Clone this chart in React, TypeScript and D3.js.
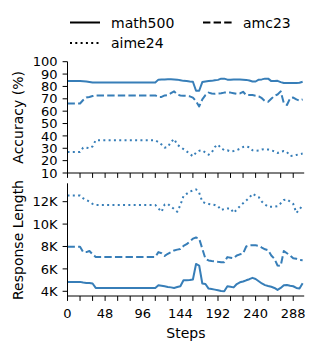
import React from "react";
import * as d3 from "d3";

const steps = [0,4,8,12,16,20,24,28,32,36,40,44,48,52,56,60,64,68,72,76,80,84,88,92,96,100,104,108,112,116,120,124,128,132,136,140,144,148,152,156,160,164,168,172,176,180,184,188,192,196,200,204,208,212,216,220,224,228,232,236,240,244,248,252,256,260,264,268,272,276,280,284,288,292,296,300];

const accMath500 = [84.3,84.3,84.3,84.3,84.3,84.2,84,83.6,83.2,
  83.2,83.2,83.2,83.2,83.2,83.2,83.2,83.2,83.2,83.2,83.2,83.2,83.2,83.2,83.2,83.2,83.2,83.2,83.2,83.2,
  85.5,85.7,85.7,85.8,85.8,85.7,85.5,85,84.5,84.3,84,83.8,
  76.5,76.5,83.5,84,84.3,84.5,85,85.3,86.3,86.3,
  85.5,85.5,85.7,85.7,85.6,85.5,85.3,84.8,84,84,
  85.5,85.7,86.3,86.3,84.3,84.3,84.5,83.5,
  82.8,82.8,82.8,82.8,82.8,83,83.8];

const accAmc23 = [66.2,66.2,66.2,66.2,66.2,69,71.1,71.5,72.2,
  72.7,72.7,72.7,72.7,72.7,72.7,72.7,72.7,72.7,72.7,72.7,72.7,72.7,72.7,72.7,72.7,72.7,72.7,72.7,72.7,
  71.5,71.5,72.7,73,74.5,76,73.5,72.7,72.5,72.4,72,71,
  68,63.8,69.5,73,75,74.3,74,74.3,74.5,75,
  75,75,74.5,74,74.3,75.7,73,73,73,72.5,
  72,70.5,68,67.6,70,72.5,73.5,76,
  66.5,65,70.5,71,69.5,68.5,69.5];

const accAime24 = [27,27,27,27,27,30.5,30.5,30,31.5,
  36.5,36.5,36.5,36.5,36.5,36.5,36.5,36.5,36.5,36.5,36.5,36.5,36.5,36.5,36.5,36.5,36.5,36.5,36.5,36.5,
  35,33,30.5,31,35,37.5,33,31,29.3,27.5,25.5,23.5,
  26.5,28,28.3,26.5,24.8,26.6,31,33,30,28.5,
  28.4,27.4,27.8,28.5,29.6,31,31.5,30.8,28.4,28,
  28.2,29,29.2,29,28.3,27.5,26.2,27.2,
  27.8,26.9,23.8,24,24.6,25.2,25.7];

const lenMath500 = [4.84,4.84,4.84,4.84,4.84,4.78,4.75,4.75,4.7,
  4.3,4.3,4.3,4.3,4.3,4.3,4.3,4.3,4.3,4.3,4.3,4.3,4.3,4.3,4.3,4.3,4.3,4.3,4.3,4.3,
  4.54,4.5,4.45,4.39,4.35,4.3,4.38,4.45,4.99,4.99,5.0,5.05,
  6.44,6.3,4.7,4.65,4.24,4.2,4.15,4.09,4.03,4.0,
  4.45,4.4,4.35,4.65,4.8,4.87,4.98,5.08,5.2,5.1,
  4.9,4.7,4.55,4.47,4.4,4.3,4.12,4.3,
  4.55,4.57,4.5,4.45,4.3,4.25,4.72];

const lenAmc23 = [7.97,7.97,7.97,7.97,7.97,7.5,7.5,7.6,7.3,
  7.07,7.07,7.07,7.07,7.07,7.07,7.07,7.07,7.07,7.07,7.07,7.07,7.07,7.07,7.07,7.07,7.07,7.07,7.07,7.07,
  7.5,7.4,7.16,7.35,7.5,7.65,7.72,7.78,8.05,8.2,8.45,8.7,
  8.8,8.7,7.8,6.9,6.75,6.7,6.68,6.63,6.6,6.6,
  7.05,7.0,6.95,7.2,7.3,7.37,8.0,8.1,8.12,8.1,
  8.06,7.9,7.75,7.67,7.2,6.9,6.3,6.28,
  7.6,7.4,7.2,6.95,6.9,6.8,6.78];

const lenAime24 = [12.54,12.54,12.54,12.54,12.54,12.3,12.15,12.0,11.8,
  11.7,11.7,11.7,11.7,11.7,11.7,11.7,11.7,11.7,11.7,11.7,11.7,11.7,11.7,11.7,11.7,11.7,11.7,11.7,11.7,
  11.4,11.1,11.75,11.8,11.55,11.35,11.1,11.7,12.5,12.7,12.9,13.0,
  13.1,12.8,12.0,11.85,11.8,11.75,11.7,11.6,11.25,11.35,
  11.4,11.4,11.0,11.3,11.6,11.85,12.1,12.35,12.7,12.55,
  12.4,12.0,11.75,11.55,11.55,11.55,11.6,11.85,
  12.15,12.2,12.0,11.8,11.0,11.3,11.7];

const xTicks = [0,16,32,48,64,80,96,112,128,144,160,176,192,208,224,240,256,272,288];
const xTickLabels = [0,48,96,144,192,240,288];
const accTicks = [10,20,30,40,50,60,70,80,90,100];
const lenTicks = [4,6,8,10,12];

const seriesNames = ["math500", "amc23", "aime24"];
const dashes = ["none", "7.4,3.2", "2,3.3"];

const COLOR = "#377eb8";
const FONT = "DejaVu Sans";

export default function App() {
  const left = 67.5, right = 304.2;
  const x = d3.scaleLinear().domain([0, 302]).range([left, right]);
  const yAcc = d3.scaleLinear().domain([10, 100]).range([173, 61.7]);
  const yLen = d3.scaleLinear().domain([3.58, 13.64]).range([296, 183.3]);

  const accSeries = [accMath500, accAmc23, accAime24];
  const lenSeries = [lenMath500, lenAmc23, lenAime24];

  const lineAcc = d3.line<number>().x((_, i) => x(steps[i])).y((d) => yAcc(d));
  const lineLen = d3.line<number>().x((_, i) => x(steps[i])).y((d) => yLen(d));

  const xAxis = (y0: number, labels: boolean) => (
    <g>
      <line x1={left} x2={right} y1={y0} y2={y0} stroke="#000" strokeWidth={1} />
      {xTicks.map((t) => (
        <line key={t} x1={x(t)} x2={x(t)} y1={y0} y2={y0 + 4.9} stroke="#000" strokeWidth={1} />
      ))}
      {labels &&
        xTickLabels.map((t) => (
          <text key={t} x={x(t)} y={y0 + 22} textAnchor="middle" fontSize={13} fontFamily={FONT} fill="#000">
            {t}
          </text>
        ))}
    </g>
  );

  const yAxis = (scale: d3.ScaleLinear<number, number>, ticks: number[], fmt: (v: number) => string) => {
    const [r0, r1] = scale.range();
    return (
      <g>
        <line x1={left} x2={left} y1={r0} y2={r1} stroke="#000" strokeWidth={1} />
        {ticks.map((t) => (
          <g key={t}>
            <line x1={left - 4.9} x2={left} y1={scale(t)} y2={scale(t)} stroke="#000" strokeWidth={1} />
            <text x={left - 10} y={scale(t)} dy="0.36em" textAnchor="end" fontSize={13} fontFamily={FONT} fill="#000">
              {fmt(t)}
            </text>
          </g>
        ))}
      </g>
    );
  };

  return (
    <svg width={317} height={350} style={{ position: "absolute", left: 0, top: 0 }}>
      <rect width={317} height={350} fill="#fff" />
      {/* legend */}
      <g fontFamily={FONT} fontSize={14}>
        <line x1={70} x2={100} y1={22.5} y2={22.5} stroke="#000" strokeWidth={2} />
        <text x={111} y={27.5}>{seriesNames[0]}</text>
        <line x1={203} x2={232} y1={22.5} y2={22.5} stroke="#000" strokeWidth={2} strokeDasharray={dashes[1]} />
        <text x={243} y={27.5}>{seriesNames[1]}</text>
        <line x1={70} x2={100} y1={43} y2={43} stroke="#000" strokeWidth={2} strokeDasharray={dashes[2]} />
        <text x={111} y={48}>{seriesNames[2]}</text>
      </g>

      {/* top panel */}
      {accSeries.map((s, i) => (
        <path key={i} d={lineAcc(s) || ""} fill="none" stroke={COLOR} strokeWidth={2}
          strokeDasharray={dashes[i] === "none" ? undefined : dashes[i]} strokeLinejoin="round" />
      ))}
      {yAxis(yAcc, accTicks, (v) => String(v))}
      {xAxis(173, false)}
      <text transform={`translate(23,117.4) rotate(-90)`} textAnchor="middle" fontSize={14} fontFamily={FONT}>
        Accuracy (%)
      </text>

      {/* bottom panel */}
      {lenSeries.map((s, i) => (
        <path key={i} d={lineLen(s) || ""} fill="none" stroke={COLOR} strokeWidth={2}
          strokeDasharray={dashes[i] === "none" ? undefined : dashes[i]} strokeLinejoin="round" />
      ))}
      {yAxis(yLen, lenTicks, (v) => `${v}K`)}
      {xAxis(296, true)}
      <text transform={`translate(23,240) rotate(-90)`} textAnchor="middle" fontSize={14} fontFamily={FONT}>
        Response Length
      </text>
      <text x={(left + right) / 2} y={338} textAnchor="middle" fontSize={14} fontFamily={FONT}>
        Steps
      </text>
    </svg>
  );
}
